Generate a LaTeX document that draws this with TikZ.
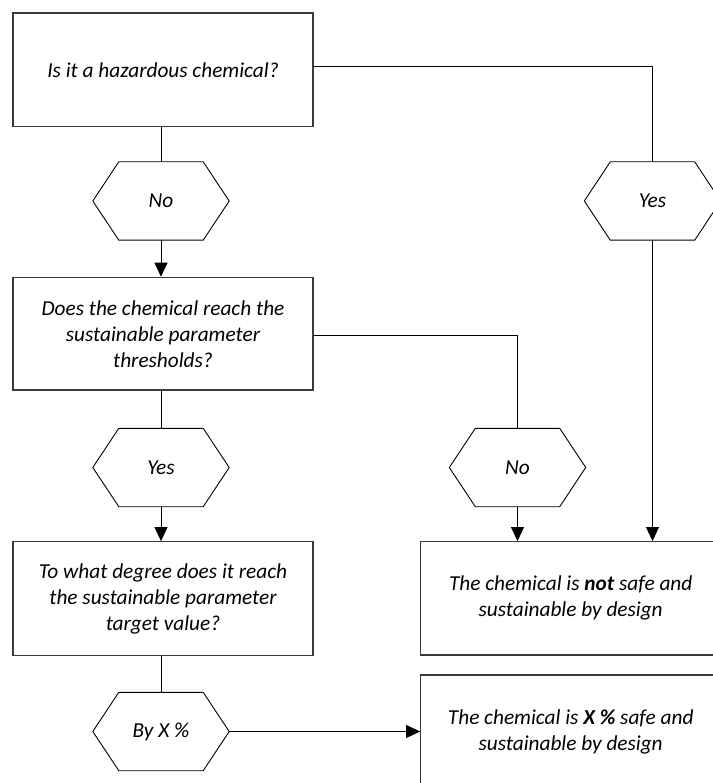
\documentclass[tikz,border=0pt]{standalone}
\usepackage{fontspec}
\setmainfont{Carlito}
\usetikzlibrary{arrows.meta}
\definecolor{boxline}{HTML}{3A3A3A}
\newcommand\hexoutline[1]{%
  \draw[hexline] ([xshift=26pt]#1.north west) -- ([xshift=-26pt]#1.north east) -- (#1.east)
    -- ([xshift=-26pt]#1.south east) -- ([xshift=26pt]#1.south west) -- (#1.west) -- cycle;}
\begin{document}
\begin{tikzpicture}[x=1pt,y=-1pt,
  txt/.style={font=\itshape\fontsize{21.3}{26}\selectfont, align=center},
  box/.style={txt, draw=boxline, line width=1.2pt, minimum width=300pt, inner sep=0pt},
  hexa/.style={txt, minimum width=136pt, minimum height=78pt, inner sep=0pt},
  hexline/.style={line width=0.9pt, black},
  conn/.style={line width=0.9pt, black},
  arr/.style={conn, -{Triangle[width=13pt,length=14pt]}}]
\useasboundingbox (0,0) rectangle (712,783);
\node[box, minimum height=113.5pt] (b1) at (163,69.7) {Is it a hazardous chemical?};
\node[box, minimum height=112.7pt] (b2) at (163,333.7) {Does the chemical reach the\\sustainable parameter\\thresholds?};
\node[box, minimum height=114pt] (b3) at (163,598.7) {To what degree does it reach\\the sustainable parameter\\target value?};
\node[box, minimum height=113.3pt] (b4) at (570.7,598.3) {The chemical is \textbf{not} safe and\\sustainable by design};
\node[box, minimum height=113pt] (b5) at (570.7,731.5) {The chemical is \textbf{X \%} safe and\\sustainable by design};
\node[hexa] (h1) at (161,201) {No};
\node[hexa] (h2) at (652.5,201) {Yes};
\node[hexa] (h3) at (161,467.5) {Yes};
\node[hexa] (h4) at (517.5,467.5) {No};
\node[hexa] (h5) at (161,731.5) {By X \%};
\hexoutline{h1}\hexoutline{h2}\hexoutline{h3}\hexoutline{h4}\hexoutline{h5}
\draw[conn] (h1.north |- b1.south) -- (h1.north);
\draw[arr] (h1.south) -- (h1.south |- b2.north);
\draw[conn] ([yshift=3pt]b1.east) -| (h2.north);
\draw[arr] (h2.south) -- (h2.south |- b4.north);
\draw[conn] ([yshift=-1.3pt]b2.east) -| (h4.north);
\draw[arr] (h4.south) -- (h4.south |- b4.north);
\draw[conn] (h3.north |- b2.south) -- (h3.north);
\draw[arr] (h3.south) -- (h3.south |- b3.north);
\draw[conn] (h5.north |- b3.south) -- (h5.north);
\draw[arr] (h5.east) -- (b5.west);
\end{tikzpicture}
\end{document}
